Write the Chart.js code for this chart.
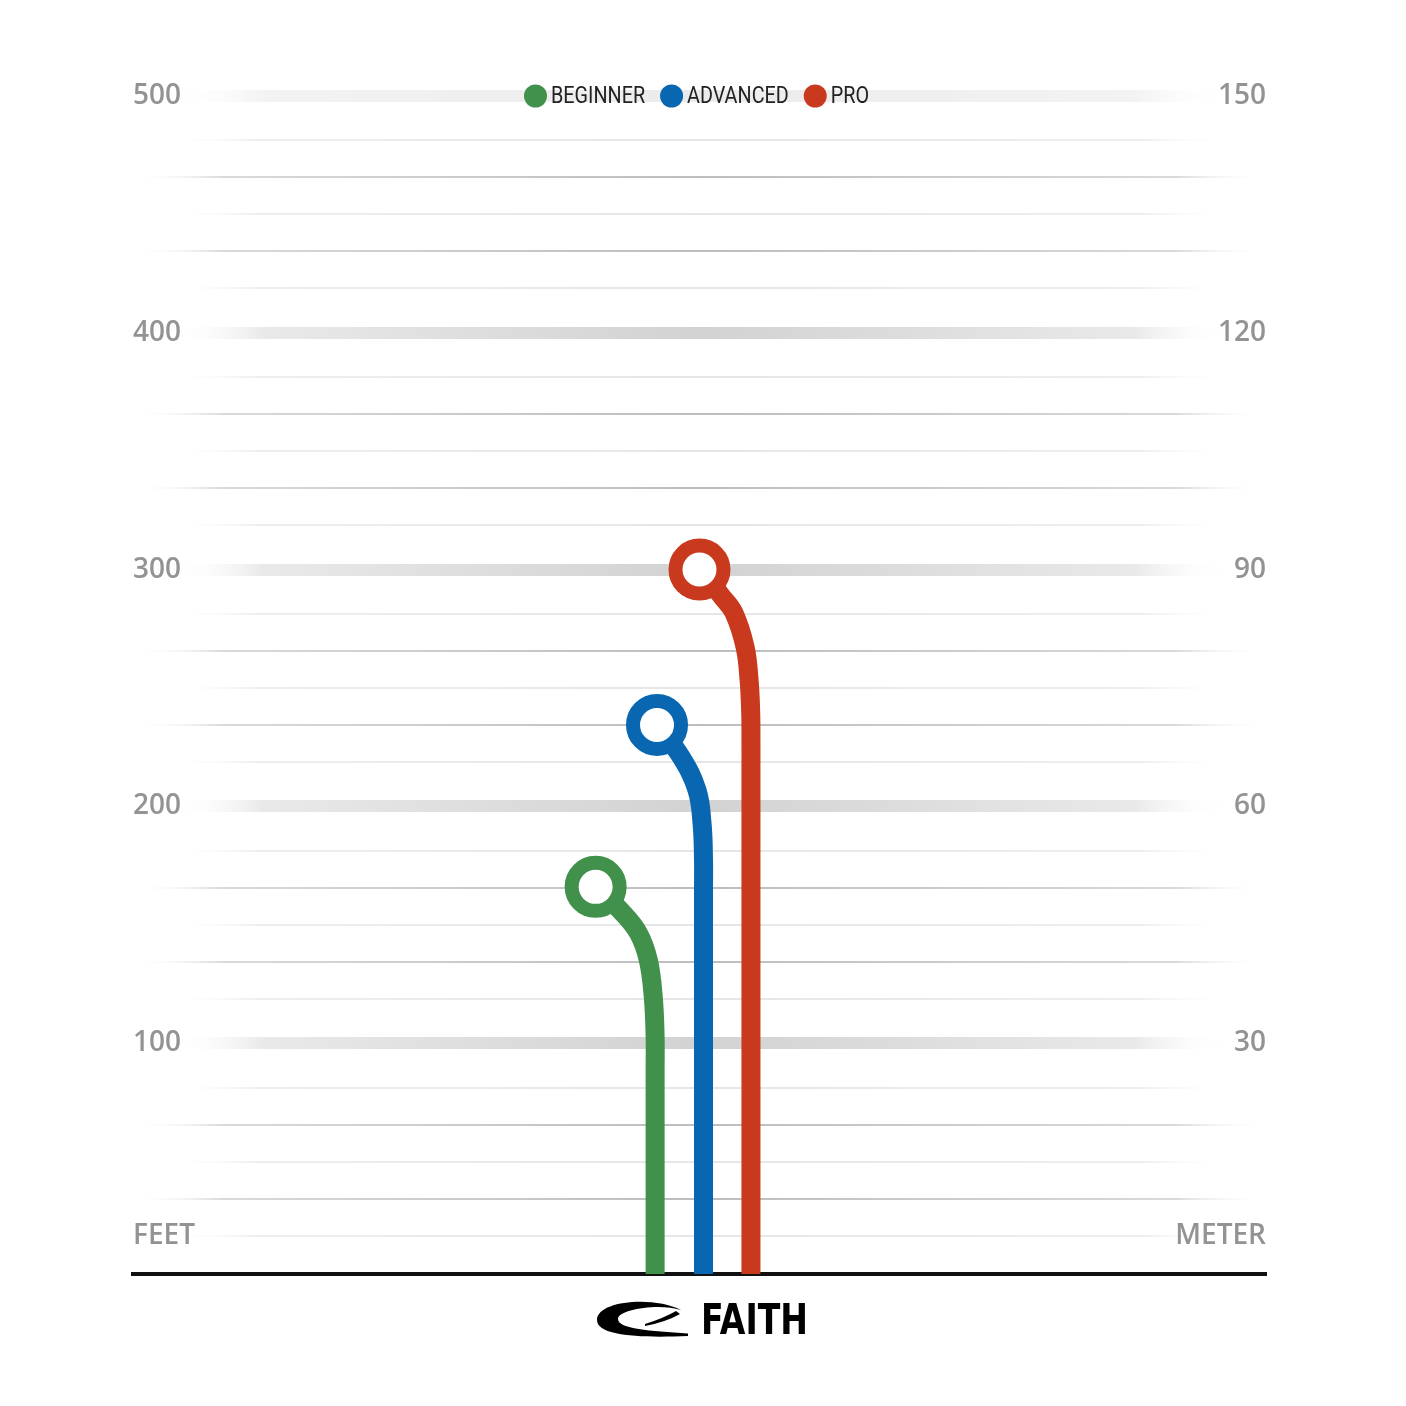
<!DOCTYPE html>
<html>
<head>
<meta charset="utf-8">
<title>Flight chart</title>
<script src="https://cdn.jsdelivr.net/npm/chart.js@4.4.1/dist/chart.umd.min.js"></script>
<style>
  html, body { margin: 0; padding: 0; background: #fff; }
  #wrap { width: 1406px; height: 1406px; }
</style>
</head>
<body>
<div id="wrap"><canvas id="chart" width="1406" height="1406"></canvas></div>
<script>
// series names and colours
const seriesNames = ['BEGINNER', 'ADVANCED', 'PRO'];
const seriesColors = ['#41904b', '#0867b0', '#c8391d'];

// lateral drift (negative = left) and distance in feet, read along each path
const beginnerX = [-18.8, -18.8, -18.8, -19.6, -21.7, -25.9, -33.0, -44.0];
const beginnerY = [2.5, 90, 102.6, 119.6, 135.1, 146.5, 155.5, 166];
const advancedX = [1.7, 1.7, 1.7, 1.06, -1.06, -7.8, -18.0];
const advancedY = [2.5, 165, 177.4, 193.0, 206.9, 220.9, 234.4];
const proX = [21.8, 21.8, 21.8, 21.7, 21.0, 19.3, 14.6, 9.5, 0];
const proY = [2.5, 215, 228, 239.4, 253.4, 267.3, 281.7, 288.6, 300];

// axis ticks
const feetTicks = [100, 200, 300, 400, 500];
const meterTicks = [30, 60, 90, 120, 150];
const feetUnit = 'FEET';
const meterUnit = 'METER';
const unitLabelFeet = 18.5;           // height of the unit captions, in feet
const feetToMeter = 0.3;

// thin guide lines around the middle of every 100 ft band
const minorCentres = [50, 150, 250, 350, 450];
const minorOffsets = [-31.25, -15.625, 0, 15.625, 31.25];
const minorLines = [];
minorCentres.forEach(c => minorOffsets.forEach(o => minorLines.push(c + o)));

function toPoints(xs, ys) {
    return xs.map((x, i) => ({ x: x, y: ys[i] }));
}

const tickFont = { family: '"Open Sans", "Noto Sans", sans-serif', size: 28, weight: '600' };
const tickColor = '#939393';

function fade(chart, mid, edge, inset) {
    const { left, right } = chart.chartArea;
    const g = chart.ctx.createLinearGradient(left, 0, right, 0);
    g.addColorStop(0, 'rgba(255,255,255,0)');
    g.addColorStop(inset, 'rgba(255,255,255,0)');
    g.addColorStop(inset + 0.08, edge);
    g.addColorStop(0.5, mid);
    g.addColorStop(1 - inset - 0.08, edge);
    g.addColorStop(1 - inset, 'rgba(255,255,255,0)');
    g.addColorStop(1, 'rgba(255,255,255,0)');
    return g;
}

const topLegend = {
    id: 'topLegend',
    afterDraw(chart) {
        const ctx = chart.ctx;
        const y = chart.scales.y.getPixelForValue(500);
        const squeeze = 0.86, r = 11.5, gapIcon = 4, gapItem = 15;
        ctx.save();
        ctx.font = '23px Roboto, "Open Sans", sans-serif';
        ctx.textBaseline = 'middle';
        ctx.textAlign = 'left';
        const widths = chart.data.datasets.map(ds => ctx.measureText(ds.label).width * squeeze);
        const total = widths.reduce((s, w) => s + 2 * r + gapIcon + w, 0) + gapItem * (widths.length - 1);
        let x = (chart.chartArea.left + chart.chartArea.right) / 2 - total / 2 - 3;
        chart.data.datasets.forEach((ds, i) => {
            ctx.fillStyle = ds.borderColor;
            ctx.beginPath();
            ctx.arc(x + r, y, r, 0, Math.PI * 2);
            ctx.fill();
            x += 2 * r + gapIcon;
            ctx.fillStyle = '#222';
            ctx.fillText(ds.label, x, y + 1, widths[i]);
            x += widths[i] + gapItem;
        });
        ctx.restore();
    }
};

const logo = {
    id: 'logo',
    afterDraw(chart) {
        const ctx = chart.ctx;
        ctx.save();
        ctx.fillStyle = '#000';
        // swoosh
        ctx.beginPath();
        ctx.moveTo(681, 1310);
        ctx.bezierCurveTo(655, 1296, 597, 1300, 597, 1320);
        ctx.bezierCurveTo(597, 1336, 640, 1338, 688, 1336);
        ctx.lineTo(688, 1333.5);
        ctx.bezierCurveTo(650, 1331, 618, 1329, 618, 1319);
        ctx.bezierCurveTo(618, 1309, 660, 1303, 681, 1310);
        ctx.closePath();
        ctx.fill();
        ctx.beginPath();
        ctx.moveTo(645, 1324);
        ctx.quadraticCurveTo(664, 1318, 676, 1311);
        ctx.lineTo(680, 1314);
        ctx.quadraticCurveTo(666, 1322, 645, 1326);
        ctx.closePath();
        ctx.fill();
        // wordmark
        ctx.font = 'bold 42px "DejaVu Sans", sans-serif';
        ctx.textAlign = 'left';
        ctx.textBaseline = 'alphabetic';
        ctx.fillText('FAITH', 701, 1334, 107);
        ctx.restore();
    }
};

const ctx = document.getElementById('chart').getContext('2d');
const chart = new Chart(ctx, {
    type: 'line',
    data: {
        datasets: [
            { label: seriesNames[0], data: toPoints(beginnerX, beginnerY), borderColor: seriesColors[0] },
            { label: seriesNames[1], data: toPoints(advancedX, advancedY), borderColor: seriesColors[1] },
            { label: seriesNames[2], data: toPoints(proX, proY), borderColor: seriesColors[2] }
        ].map(ds => Object.assign(ds, {
            borderWidth: 19,
            borderCapStyle: 'butt',
            borderJoinStyle: 'round',
            tension: 0.4,
            fill: false,
            pointBackgroundColor: '#fff',
            pointBorderColor: ds.borderColor,
            pointBorderWidth: 14,
            pointRadius: c => (c.dataIndex === c.dataset.data.length - 1 ? 24 : 0),
            pointHoverRadius: 0,
            clip: false
        }))
    },
    options: {
        responsive: false,
        animation: false,
        events: [],
        layout: { padding: { left: 133, right: 140, top: 96, bottom: 132 } },
        plugins: {
            legend: { display: false },
            tooltip: { enabled: false }
        },
        scales: {
            x: {
                type: 'linear',
                min: -240,
                max: 240,
                ticks: { display: false },
                grid: { display: false, drawTicks: false },
                border: { display: true, color: '#111', width: 4 }
            },
            yMinor: {
                type: 'linear',
                position: 'left',
                min: 2.5,
                max: 500,
                afterBuildTicks: s => { s.ticks = minorLines.map(v => ({ value: v })); },
                ticks: { display: false },
                border: { display: false },
                grid: {
                    drawTicks: false,
                    lineWidth: 2,
                    color: c => {
                        const k = c.index % minorOffsets.length;
                        const dark = k === 1 || k === 3;
                        return dark ? fade(c.chart, '#bdbdbd', '#d9d9d9', 0.0)
                                    : fade(c.chart, '#e6e6e6', '#eeeeee', 0.03);
                    }
                }
            },
            y: {
                type: 'linear',
                position: 'left',
                min: 2.5,
                max: 500,
                afterBuildTicks: s => {
                    s.ticks = [{ value: unitLabelFeet }].concat(feetTicks.map(v => ({ value: v })));
                },
                ticks: {
                    mirror: true,
                    crossAlign: 'near',
                    padding: 0,
                    font: tickFont,
                    color: tickColor,
                    callback: v => (v === unitLabelFeet ? feetUnit : String(v))
                },
                border: { display: false },
                grid: {
                    drawTicks: false,
                    lineWidth: 12,
                    color: c => {
                        if (!c.tick || c.tick.value === unitLabelFeet) return 'rgba(0,0,0,0)';
                        if (c.tick.value === 500) return fade(c.chart, '#ebebeb', '#f3f3f3', 0.035);
                        return fade(c.chart, '#d2d2d2', '#e9e9e9', 0.035);
                    }
                }
            },
            y2: {
                type: 'linear',
                position: 'right',
                min: 2.5 * feetToMeter,
                max: 500 * feetToMeter,
                afterBuildTicks: s => {
                    s.ticks = [{ value: unitLabelFeet * feetToMeter }].concat(meterTicks.map(v => ({ value: v })));
                },
                ticks: {
                    mirror: true,
                    crossAlign: 'near',
                    padding: 0,
                    font: tickFont,
                    color: tickColor,
                    callback: v => (v === unitLabelFeet * feetToMeter ? meterUnit : String(v))
                },
                border: { display: false },
                grid: { display: false, drawTicks: false }
            }
        }
    },
    plugins: [topLegend, logo]
});
</script>
</body>
</html>
